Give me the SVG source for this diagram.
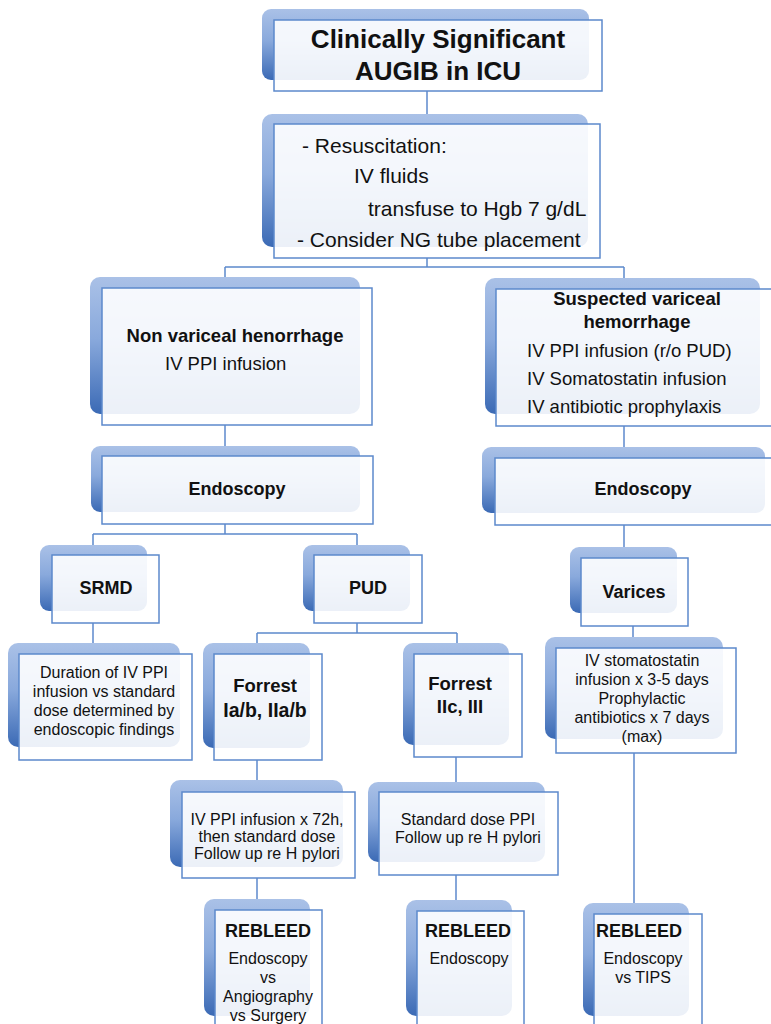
<svg xmlns="http://www.w3.org/2000/svg" width="771" height="1024" viewBox="0 0 771 1024">
<defs>
<linearGradient id="gb" x1="0" y1="0" x2="0" y2="1">
<stop offset="0" stop-color="#aac1e7"/>
<stop offset="0.45" stop-color="#89a9dc"/>
<stop offset="1" stop-color="#3b6ab5"/>
</linearGradient>
</defs>
<style>
.back{fill:url(#gb);}
.front{fill:#ffffff;fill-opacity:0.9;stroke:#5c89cc;stroke-width:1.5;}
.conn{fill:none;stroke:#5c89cc;stroke-width:1.5;}
text{font-family:"Liberation Sans",Arial,sans-serif;fill:#111;}
.b{font-weight:bold;}
.c{text-anchor:middle;}
.t26{font-size:26px;}
.t21{font-size:21px;}
.t185{font-size:18.5px;}
.t18{font-size:18px;}
.t16{font-size:16px;}
</style>
<rect width="771" height="1024" fill="#ffffff"/>
<g id="connectors">
<path class="conn" d="M427 91V114"/>
<path class="conn" d="M427 258V267M225 267H624M225 267V277M624 267V278"/>
<path class="conn" d="M225 425V446"/>
<path class="conn" d="M225 524V534M93 534H357M93 534V545M357 534V545"/>
<path class="conn" d="M93 623V643"/>
<path class="conn" d="M357 623V633M257 633H457M257 633V643M457 633V643"/>
<path class="conn" d="M257 760V780"/>
<path class="conn" d="M456 757V782"/>
<path class="conn" d="M257 878V899"/>
<path class="conn" d="M456 875V900"/>
<path class="conn" d="M624 426V447"/>
<path class="conn" d="M624 525V547"/>
<path class="conn" d="M633 626V637"/>
<path class="conn" d="M634 753V903"/>
</g>
<g id="n-title">
<rect class="back" x="262" y="9" width="327" height="71" rx="9"/>
<rect class="front" x="274" y="20" width="328" height="71"/>
<text class="b c t26" x="438" y="48">Clinically Significant</text>
<text class="b c t26" x="438" y="80">AUGIB in ICU</text>
</g>
<g id="n-resus">
<rect class="back" x="262" y="114" width="326" height="133" rx="10"/>
<rect class="front" x="274" y="124" width="326" height="134"/>
<text class="t21" x="302" y="153">- Resuscitation:</text>
<text class="t21" x="354" y="183">IV fluids</text>
<text class="t21" x="368" y="216">transfuse to Hgb 7 g/dL</text>
<text class="t21" x="297" y="247">- Consider NG tube placement</text>
</g>
<g id="n-nonvar">
<rect class="back" x="90" y="277" width="270" height="137" rx="10"/>
<rect class="front" x="102" y="288" width="270" height="137"/>
<text class="b c t185" x="235" y="342">Non variceal henorrhage</text>
<text class="t185" x="165" y="370">IV PPI infusion</text>
</g>
<g id="n-endo-l">
<rect class="back" x="91" y="446" width="269" height="66" rx="9"/>
<rect class="front" x="102" y="456" width="271" height="68"/>
<text class="b c t18" x="237" y="495">Endoscopy</text>
</g>
<g id="n-srmd">
<rect class="back" x="40" y="545" width="107" height="66" rx="9"/>
<rect class="front" x="52" y="555" width="107" height="68"/>
<text class="b c t18" x="106" y="594">SRMD</text>
</g>
<g id="n-pud">
<rect class="back" x="303" y="545" width="107" height="66" rx="9"/>
<rect class="front" x="314" y="555" width="108" height="68"/>
<text class="b c t18" x="368" y="594">PUD</text>
</g>
<g id="n-duration">
<rect class="back" x="8" y="643" width="172" height="104" rx="10"/>
<rect class="front" x="19" y="654" width="173" height="106"/>
<text class="c t16" x="104" y="678">Duration of IV PPI</text>
<text class="c t16" x="104" y="697">infusion vs standard</text>
<text class="c t16" x="104" y="716">dose determined by</text>
<text class="c t16" x="104" y="735">endoscopic findings</text>
</g>
<g id="n-forrest1">
<rect class="back" x="203" y="643" width="107" height="105" rx="10"/>
<rect class="front" x="214" y="654" width="108" height="106"/>
<text class="b c t185" x="265" y="692">Forrest</text>
<text class="b c" style="font-size:19.5px" x="265" y="717">Ia/b, IIa/b</text>
</g>
<g id="n-forrest2">
<rect class="back" x="403" y="643" width="106" height="102" rx="10"/>
<rect class="front" x="414" y="654" width="108" height="103"/>
<text class="b c t185" x="460" y="690">Forrest</text>
<text class="b c t185" x="460" y="713">IIc, III</text>
</g>
<g id="n-ppi72">
<rect class="back" x="170" y="780" width="173" height="87" rx="10"/>
<rect class="front" x="182" y="792" width="173" height="86"/>
<text class="c t16" x="267" y="825">IV PPI infusion x 72h,</text>
<text class="c t16" x="267" y="842">then standard dose</text>
<text class="c t16" x="267" y="859">Follow up re H pylori</text>
</g>
<g id="n-stddose">
<rect class="back" x="368" y="782" width="177" height="80" rx="10"/>
<rect class="front" x="379" y="792" width="179" height="83"/>
<text class="c t16" x="468" y="825">Standard dose PPI</text>
<text class="c t16" x="468" y="843">Follow up re H pylori</text>
</g>
<g id="n-rebleed1">
<rect class="back" x="204" y="899" width="106" height="117" rx="10"/>
<rect class="front" x="215" y="910" width="107" height="120"/>
<text class="b c t18" x="268" y="937">REBLEED</text>
<text class="c t16" x="268" y="964">Endoscopy</text>
<text class="c t16" x="268" y="983">vs</text>
<text class="c t16" x="268" y="1002">Angiography</text>
<text class="c t16" x="268" y="1021">vs Surgery</text>
</g>
<g id="n-rebleed2">
<rect class="back" x="406" y="900" width="106" height="116" rx="10"/>
<rect class="front" x="417" y="911" width="107" height="119"/>
<text class="b c t18" x="468" y="937">REBLEED</text>
<text class="c t16" x="469" y="964">Endoscopy</text>
</g>
<g id="n-suspvar">
<rect class="back" x="485" y="278" width="275" height="136" rx="10"/>
<rect class="front" x="496" y="289" width="280" height="137"/>
<text class="b c t185" x="637" y="305">Suspected variceal</text>
<text class="b c t185" x="637" y="328">hemorrhage</text>
<text class="t185" x="527" y="357">IV PPI infusion (r/o PUD)</text>
<text class="t185" x="527" y="385">IV Somatostatin infusion</text>
<text class="t185" x="527" y="413">IV antibiotic prophylaxis</text>
</g>
<g id="n-endo-r">
<rect class="back" x="482" y="447" width="283" height="66" rx="9"/>
<rect class="front" x="495" y="458" width="281" height="67"/>
<text class="b c t18" x="643" y="495">Endoscopy</text>
</g>
<g id="n-varices">
<rect class="back" x="570" y="547" width="107" height="66" rx="9"/>
<rect class="front" x="581" y="558" width="107" height="68"/>
<text class="b c t18" x="634" y="598">Varices</text>
</g>
<g id="n-somato">
<rect class="back" x="545" y="637" width="178" height="102" rx="10"/>
<rect class="front" x="556" y="648" width="180" height="105"/>
<text class="c t16" x="642" y="666">IV stomatostatin</text>
<text class="c t16" x="642" y="685">infusion x 3-5 days</text>
<text class="c t16" x="642" y="704">Prophylactic</text>
<text class="c t16" x="642" y="723">antibiotics x 7 days</text>
<text class="c t16" x="642" y="742">(max)</text>
</g>
<g id="n-rebleed3">
<rect class="back" x="583" y="903" width="106" height="113" rx="10"/>
<rect class="front" x="594" y="914" width="108" height="116"/>
<text class="b c t18" x="639" y="937">REBLEED</text>
<text class="c t16" x="643" y="964">Endoscopy</text>
<text class="c t16" x="643" y="983">vs TIPS</text>
</g>
</svg>
